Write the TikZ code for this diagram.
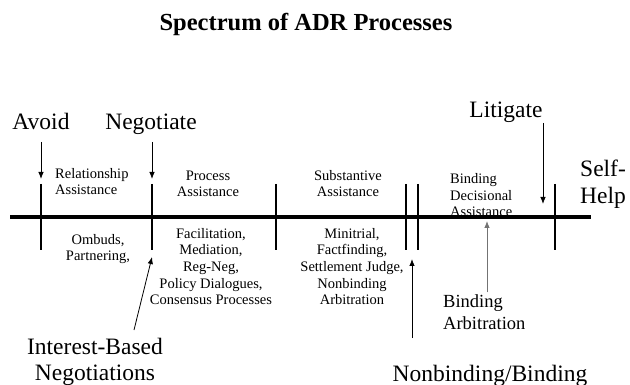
\documentclass[tikz,border=0pt]{standalone}
\usepackage{fontspec}
\setmainfont{Liberation Serif}
\usetikzlibrary{arrows.meta}
\tikzset{
  big/.style={font=\fontsize{23.5}{26}\selectfont, inner sep=0pt, anchor=base},
  mid/.style={font=\fontsize{18.5}{22}\selectfont, inner sep=0pt, align=left},
  small/.style={font=\fontsize{14.5}{16.7}\selectfont, inner sep=0pt},
  ttl/.style={font=\fontsize{24.5}{28}\selectfont\bfseries, inner sep=0pt, anchor=base},
  axis/.style={line width=3.2pt},
  bar/.style={line width=2.6pt},
  arr/.style={line width=0.8pt, -{Latex[length=7pt,width=5.5pt]}},
}
\begin{document}
\begin{tikzpicture}[x=1pt,y=-1pt]
\useasboundingbox (0,0) rectangle (630,385);
% title
\node[ttl] (title) at (306,31) {Spectrum of ADR Processes};
% top labels
\node[big] (avoid) at (41,130) {Avoid};
\node[big] (negot) at (151,130) {Negotiate};
\node[big] (litig) at (506,118) {Litigate};
\node[big, anchor=base west] (self) at (580,177) {Self-};
\node[big, anchor=base west] (help) at (580,204) {Help};
% upper category labels (anchor base = last line baseline)
\node[small, anchor=base west, align=left] (rel) at (55,195) {Relationship\\Assistance};
\node[small, anchor=base, align=center] (proc) at (208,197) {Process\\Assistance};
\node[small, anchor=base, align=center] (subs) at (348,197) {Substantive\\Assistance};
\node[small, anchor=base west, align=left] (bind) at (450,217) {Binding\\Decisional\\Assistance};
% axis
\coordinate (L) at (10,217);
\coordinate (R) at (591,217);
\draw[axis] (L) -- (R);
% bars
\foreach \n/\x in {b1/41,b2/152,b3/276,b4/406,b5/418,b6/555}{
  \coordinate (\n t) at (\x,184);
  \coordinate (\n b) at (\x,250);
  \draw[bar] (\n t) -- (\n b);
}
% arrows from top
\coordinate (a1s) at (41,142); \coordinate (a1e) at (41,179);
\coordinate (a2s) at (152,142); \coordinate (a2e) at (152,179);
\coordinate (a3s) at (543,123); \coordinate (a3e) at (543,204);
\draw[arr] (a1s) -- (a1e);
\draw[arr] (a2s) -- (a2e);
\draw[arr] (a3s) -- (a3e);
% lower lists
\node[small, anchor=base, align=center] (omb) at (98,261) {Ombuds,\\Partnering,};
\node[small, anchor=base, align=center] (fac) at (211,305) {Facilitation,\\Mediation,\\Reg-Neg,\\Policy Dialogues,\\Consensus Processes};
\node[small, anchor=base, align=center] (mini) at (352,305) {Minitrial,\\Factfinding,\\Settlement Judge,\\Nonbinding\\Arbitration};
% bottom labels
\node[mid, anchor=base west] (barb) at (443,330) {Binding\\Arbitration};
\node[big, align=center] (ibn) at (95,380) {Interest-Based\\Negotiations};
\node[big] (nbb) at (490,381) {Nonbinding/Binding};
% arrows from bottom
\coordinate (u1s) at (134,330); \coordinate (u1e) at (152,257);
\coordinate (u2s) at (412,338); \coordinate (u2e) at (412,259);
\coordinate (u3s) at (487,292); \coordinate (u3e) at (487,221);
\draw[arr] (u1s) -- (u1e);
\draw[arr] (u2s) -- (u2e);
\draw[arr, draw=black!55, fill=black] (u3s) -- (u3e);
\end{tikzpicture}
\end{document}
